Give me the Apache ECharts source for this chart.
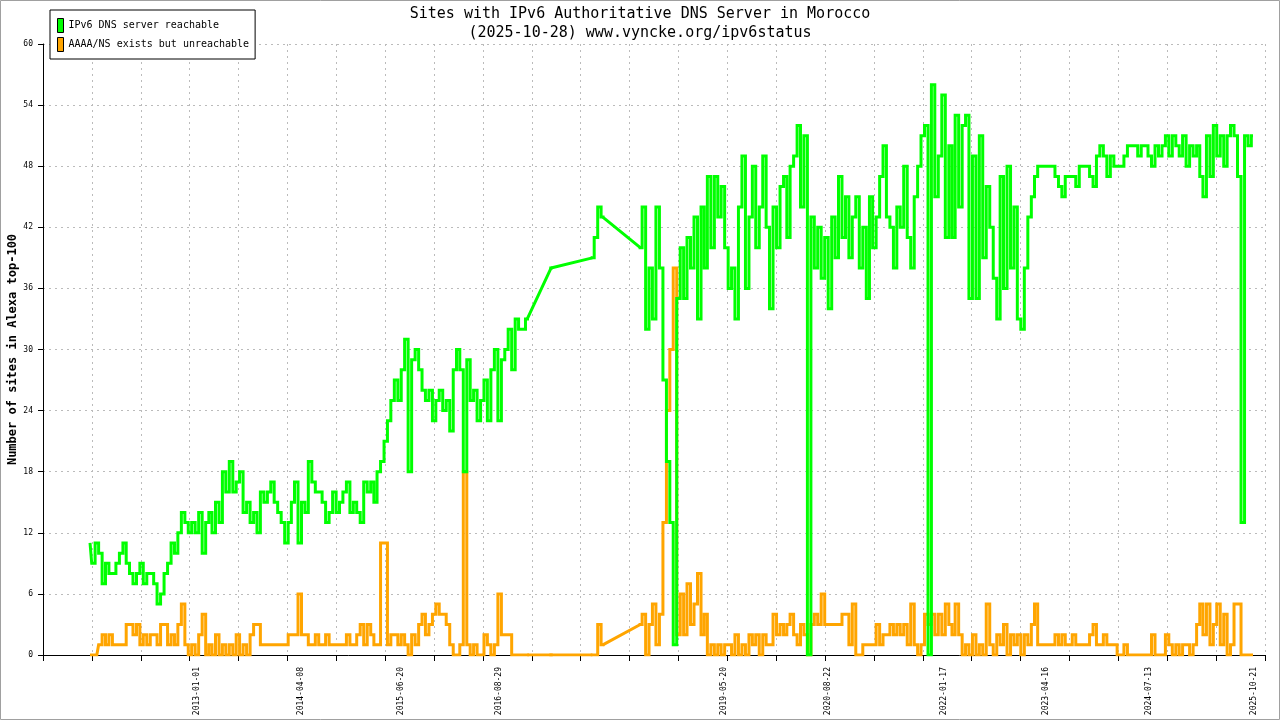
<!DOCTYPE html>
<html>
<head>
<meta charset="utf-8">
<script src="https://cdn.jsdelivr.net/npm/echarts@6/dist/echarts.min.js"></script>
<style>
html,body{margin:0;padding:0;background:#fff;}
#chart{width:1280px;height:720px;}
</style>
</head>
<body>
<div id="chart"></div>
<script>
const _ = null;
// Half-month samples per year: Jan01, Jan16, Feb01, Feb16, ... Dec01, Dec16
const reach2011 = [_,_,_,_,_,_,_,_,_,_,_,_,_,_,_,_,_,11,9,11,10,7,9,8];
const reach2012 = [8,9,10,11,9,8,7,8,9,7,8,8,7,5,6,8,9,11,10,12,14,13,12,13];
const reach2013 = [12,14,10,13,14,12,15,13,18,16,19,16,17,18,14,15,13,14,12,16,15,16,17,15];
const reach2014 = [14,13,11,13,15,17,11,15,14,19,17,16,16,15,13,14,16,14,15,16,17,14,15,14];
const reach2015 = [13,17,16,17,15,18,19,21,23,25,27,25,28,31,18,29,30,28,26,25,26,23,25,26];
const reach2016 = [24,25,22,28,30,28,18,29,25,26,23,25,27,23,28,30,23,29,30,32,28,33,32,32];
const reach2017 = [33,_,_,_,_,_,_,38,_,_,_,_,_,_,_,_,_,_,_,39,41,44,43,_];
const reach2018 = [_,_,_,_,_,_,_,_,_,40,44,32,38,33,44,38,27,19,13,1,35,40,35,41];
const reach2019 = [38,43,33,44,38,47,40,47,43,46,40,36,38,33,44,49,36,43,48,40,44,49,42,34];
const reach2020 = [44,40,46,47,41,48,49,52,44,51,0,43,38,42,37,41,34,43,39,47,41,45,39,43];
const reach2021 = [45,38,42,35,45,40,43,47,50,43,42,38,44,42,48,41,38,45,48,51,52,0,56,45];
const reach2022 = [49,55,41,50,41,53,44,52,53,35,49,35,51,39,46,42,37,33,47,36,48,38,44,33];
const reach2023 = [32,38,43,45,47,48,48,48,48,48,47,46,45,47,47,47,46,48,48,48,47,46,49,50];
const reach2024 = [49,47,49,48,48,48,49,50,50,50,49,50,50,49,48,50,49,50,51,49,51,50,49,51];
const reach2025 = [48,50,49,50,47,45,51,47,52,49,51,48,51,52,51,47,13,51,50,51,_,_,_,_];

const unreach2011 = [_,_,_,_,_,_,_,_,_,_,_,_,_,_,_,_,_,0,0,0,1,2,1,2];
const unreach2012 = [1,1,1,1,3,3,2,3,1,2,1,2,2,1,3,3,1,2,1,3,5,1,0,1];
const unreach2013 = [0,2,4,0,1,0,2,0,1,0,1,0,2,0,1,0,2,3,3,1,1,1,1,1];
const unreach2014 = [1,1,1,2,2,2,6,2,2,1,1,2,1,1,2,1,1,1,1,1,2,1,1,2];
const unreach2015 = [3,1,3,2,1,1,11,11,1,2,2,1,2,1,0,2,1,3,4,2,3,4,5,4];
const unreach2016 = [4,3,1,0,0,1,18,1,0,1,0,0,2,1,0,1,6,2,2,2,0,0,0,0];
const unreach2017 = [0,_,_,_,_,_,_,0,_,_,_,_,_,_,_,_,_,_,_,0,0,3,1,_];
const unreach2018 = [_,_,_,_,_,_,_,_,_,3,4,0,3,5,1,4,13,24,30,38,2,6,2,7];
const unreach2019 = [3,5,8,2,4,0,1,0,1,0,1,1,0,2,0,1,0,2,1,2,0,2,1,1];
const unreach2020 = [4,2,3,2,3,4,2,1,3,2,0,3,4,3,6,3,3,3,3,3,4,4,1,5];
const unreach2021 = [0,0,1,1,1,1,3,1,2,2,3,2,3,2,3,1,5,1,0,1,4,3,4,2];
const unreach2022 = [4,2,5,3,2,5,2,0,1,0,2,0,1,0,5,1,0,2,1,3,0,2,1,2];
const unreach2023 = [0,2,1,3,5,1,1,1,1,1,2,1,2,1,1,2,1,1,1,1,2,3,1,1];
const unreach2024 = [2,1,1,1,0,0,1,0,0,0,0,0,0,0,2,0,0,0,2,1,0,1,0,1];
const unreach2025 = [1,0,1,3,5,2,5,1,3,5,1,4,0,1,5,5,0,0,0,0,_,_,_,_];

const years = [2011,2012,2013,2014,2015,2016,2017,2018,2019,2020,2021,2022,2023,2024,2025];
const reachByYear = [reach2011,reach2012,reach2013,reach2014,reach2015,reach2016,reach2017,reach2018,reach2019,reach2020,reach2021,reach2022,reach2023,reach2024,reach2025];
const unreachByYear = [unreach2011,unreach2012,unreach2013,unreach2014,unreach2015,unreach2016,unreach2017,unreach2018,unreach2019,unreach2020,unreach2021,unreach2022,unreach2023,unreach2024,unreach2025];

const xTickLabels = ['2013-01-01','2014-04-08','2015-06-20','2016-08-29','2019-05-20','2020-08-22','2022-01-17','2023-04-16','2024-07-13','2025-10-21'];
const xRangeStart = '2011-02-20';
const xRangeEnd = '2025-12-08';
const xTickCount = 25;

const seriesNames = ['IPv6 DNS server reachable', 'AAAA/NS exists but unreachable'];
const titleLines = ['Sites with IPv6 Authoritative DNS Server in Morocco', '(2025-10-28) www.vyncke.org/ipv6status'];
const yTitle = 'Number of sites in Alexa top-100';

function toTs(s){ const p = s.split('-').map(Number); return Date.UTC(p[0], p[1]-1, p[2]); }
function fmt(ts){ return new Date(Math.round(ts)).toISOString().slice(0,10); }

function buildPoints(byYear){
  const pts = [];
  byYear.forEach((arr, yi) => {
    arr.forEach((v, k) => {
      const ts = Date.UTC(years[yi], Math.floor(k/2), k % 2 ? 16 : 1);
      pts.push([ts, v]);
    });
  });
  while (pts.length && pts[0][1] === null) pts.shift();
  while (pts.length && pts[pts.length-1][1] === null) pts.pop();
  return pts;
}
function mainData(pts){ return pts.map(p => [p[0], p[1] === null ? '-' : p[1]]); }
function connectorData(pts){
  const out = [];
  let last = null;
  let gap = false;
  pts.forEach(p => {
    if (p[1] === null) { gap = true; return; }
    if (gap && last) { out.push([last[0], last[1]], [p[0], p[1]], [p[0], '-']); }
    gap = false; last = p;
  });
  return out;
}

const reachPts = buildPoints(reachByYear);
const unreachPts = buildPoints(unreachByYear);

const xMin = toTs(xRangeStart), xMax = toTs(xRangeEnd);
const tickVals = [];
for (let k = 0; k <= xTickCount; k++) tickVals.push(xMin + (xMax - xMin) * k / xTickCount);

const MONO = 'DejaVu Sans Mono';
const GREEN = '#00ff00', ORANGE = '#ffa500';

const chart = echarts.init(document.getElementById('chart'), null, {renderer:'canvas'});
function lineSeries(name, data, color, z, step){
  return {
    name, type:'line', data, step: step ? 'middle' : false, showSymbol:false, symbol:'none',
    connectNulls:false, z, animation:false,
    lineStyle:{color, width:3, join:'miter'}, itemStyle:{color},
    emphasis:{disabled:true}
  };
}
chart.setOption({
  animation:false,
  backgroundColor:'#ffffff',
  title:{
    text: titleLines.join('\n'), left:'center', top:0,
    textStyle:{fontFamily:MONO, fontSize:15, fontWeight:'normal', color:'#000', lineHeight:19}
  },
  legend:{
    orient:'vertical', left:50, top:10, padding:[8,6,7,7],
    itemWidth:6, itemHeight:14, itemGap:4, selectedMode:false,
    backgroundColor:'#fff', borderColor:'#000', borderWidth:1,
    textStyle:{fontFamily:MONO, fontSize:10, color:'#000'},
    itemStyle:{borderColor:'#000', borderWidth:1},
    data:[{name:seriesNames[0], icon:'rect'},{name:seriesNames[1], icon:'rect'}]
  },
  grid:{left:43, right:15, top:44, bottom:65, containLabel:false, outerBoundsMode:'none'},
  xAxis:{
    type:'value', min:xMin, max:xMax, scale:true,
    axisLine:{show:true, onZero:false, lineStyle:{color:'#000', width:1}},
    axisTick:{show:true, length:6, customValues:tickVals, lineStyle:{color:'#000'}},
    axisLabel:{customValues:xTickLabels.map(toTs), rotate:90, margin:12, fontFamily:MONO, fontSize:8, color:'#000',
      formatter:(v) => fmt(v), hideOverlap:false},
    splitLine:{show:true, lineStyle:{color:'#bbbbbb', width:1, type:[2,4]}}
  },
  yAxis:{
    type:'value', min:0, max:60, interval:6,
    name: yTitle, nameLocation:'middle', nameGap:24, nameMoveOverlap:false,
    nameTextStyle:{fontFamily:MONO, fontSize:12, fontWeight:'bold', color:'#000'},
    axisLine:{show:true, lineStyle:{color:'#000', width:1}},
    axisTick:{show:true, length:5, lineStyle:{color:'#000'}},
    axisLabel:{fontFamily:MONO, fontSize:8, color:'#000', margin:10},
    splitLine:{show:true, lineStyle:{color:'#bbbbbb', width:1, type:[2,4]}}
  },
  graphic:[{type:'rect', shape:{x:0.5, y:0.5, width:1279, height:719}, style:{fill:'none', stroke:'#a0a0a0', lineWidth:1}, silent:true, z:100}],
  series:[
    lineSeries(seriesNames[1], mainData(unreachPts), ORANGE, 2, true),
    lineSeries(seriesNames[1], connectorData(unreachPts), ORANGE, 2, false),
    lineSeries(seriesNames[0], mainData(reachPts), GREEN, 3, true),
    lineSeries(seriesNames[0], connectorData(reachPts), GREEN, 3, false)
  ]
});
</script>
</body>
</html>
